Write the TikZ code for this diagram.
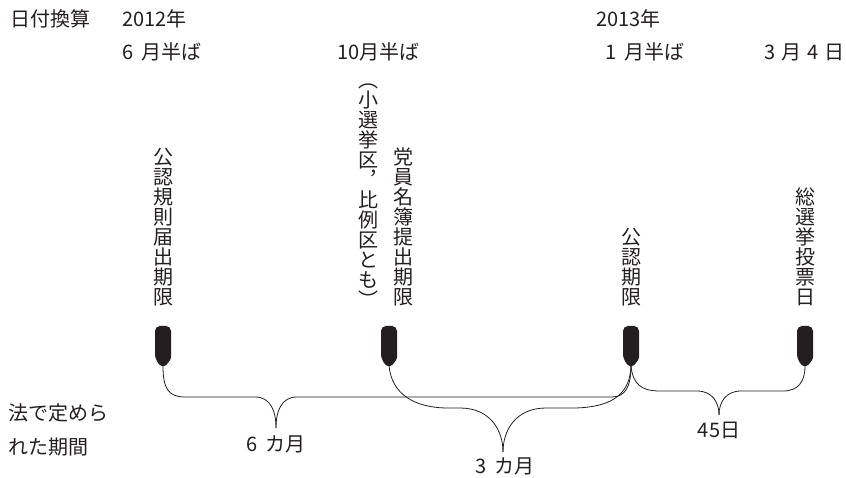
\documentclass[tikz,border=0pt]{standalone}
\usepackage{fontspec}
\setmainfont{Noto Sans CJK JP}
\definecolor{ink}{RGB}{35,31,32}
\newcommand\dsp{\hspace{8pt}}
\begin{document}
\begin{tikzpicture}[x=1pt,y=-1pt,
  lbl/.style={inner sep=0pt, font=\fontsize{20}{20}\selectfont, text=ink},
  vlbl/.style={inner sep=0pt, align=center, font=\fontsize{20}{20}\selectfont, text=ink, anchor=south},
  brace/.style={draw=ink, line width=0.8pt},
  tagmark/.pic={\fill[ink] (0,0) [rounded corners=5pt] -- (-8,0) -- (-8,33) [rounded corners=1.5pt] -- (-2.5,40) -- (2.5,40) -- (8,33) [rounded corners=5pt] -- (8,0) -- cycle;}]
\useasboundingbox (0,0) rectangle (846,478);
% header
\node[lbl, anchor=base west] (hdr) at (10,26.5) {日付換算};
\node[lbl, anchor=base west] (y2012) at (122,26.5) {2012年};
\node[lbl, anchor=base west] (y2013) at (596,26.5) {2013年};
\node[lbl, anchor=base west] (d1) at (122,59.5) {6\dsp 月半ば};
\node[lbl, anchor=base west] (d2) at (337,59.5) {10月半ば};
\node[lbl, anchor=base west] (d3) at (605,59.5) {1\dsp 月半ば};
\node[lbl, anchor=base west] (d4) at (764,59.5) {3\hspace{6pt}月\hspace{6pt}4\hspace{6pt}日};
% vertical labels
\node[vlbl] (v1) at (163,306) {公\\認\\規\\則\\届\\出\\期\\限};
\node[vlbl] (v2a) at (368,308) {︵\\小\\選\\挙\\区\\︐\\比\\例\\区\\と\\も\\︶};
\node[vlbl] (v2b) at (403,306) {党\\員\\名\\簿\\提\\出\\期\\限};
\node[vlbl] (v3) at (631,306) {公\\認\\期\\限};
\node[vlbl] (v4) at (805,306) {総\\選\\挙\\投\\票\\日};
% markers
\pic at (163,326) {tagmark};
\pic at (389,326) {tagmark};
\pic at (631,326) {tagmark};
\pic at (805,326) {tagmark};
\coordinate (m1) at (163,366);
\coordinate (m2) at (389,366);
\coordinate (m3) at (631,366);
\coordinate (m4) at (805,366);
\coordinate (t1) at (276,428);
\coordinate (t2) at (503,452);
\coordinate (t3) at (719,415);
% braces
\draw[brace] (m1) .. controls (163,388) and (168,397) .. (185,397) -- (255,397) .. controls (270,397) and (276,410) .. (t1);
\draw[brace] (t1) .. controls (276,410) and (282,397) .. (297,397) -- (612,397) .. controls (626,397) and (631,385) .. (m3);
\draw[brace] (m2) .. controls (392,395) and (415,407) .. (445,408) -- (460,408) .. controls (490,408) and (503,430) .. (t2);
\draw[brace] (t2) .. controls (503,430) and (516,408) .. (546,408) -- (575,408) .. controls (615,407) and (630,392) .. (m3);
\draw[brace] (m3) .. controls (633,385) and (642,391) .. (660,391) -- (697,391) .. controls (712,391) and (719,402) .. (t3);
\draw[brace] (t3) .. controls (719,402) and (726,391) .. (741,391) -- (783,391) .. controls (798,391) and (805,382) .. (m4);
% bottom labels
\node[lbl, anchor=base west] (law1) at (8,420.5) {法で定めら};
\node[lbl, anchor=base west] (law2) at (8,454) {れた期間};
\node[lbl, anchor=base] (p1) at (276,451) {6\dsp カ月};
\node[lbl, anchor=base] (p2) at (505,473.5) {3\dsp カ月};
\node[lbl, anchor=base] (p3) at (719,437) {45日};
\end{tikzpicture}
\end{document}
